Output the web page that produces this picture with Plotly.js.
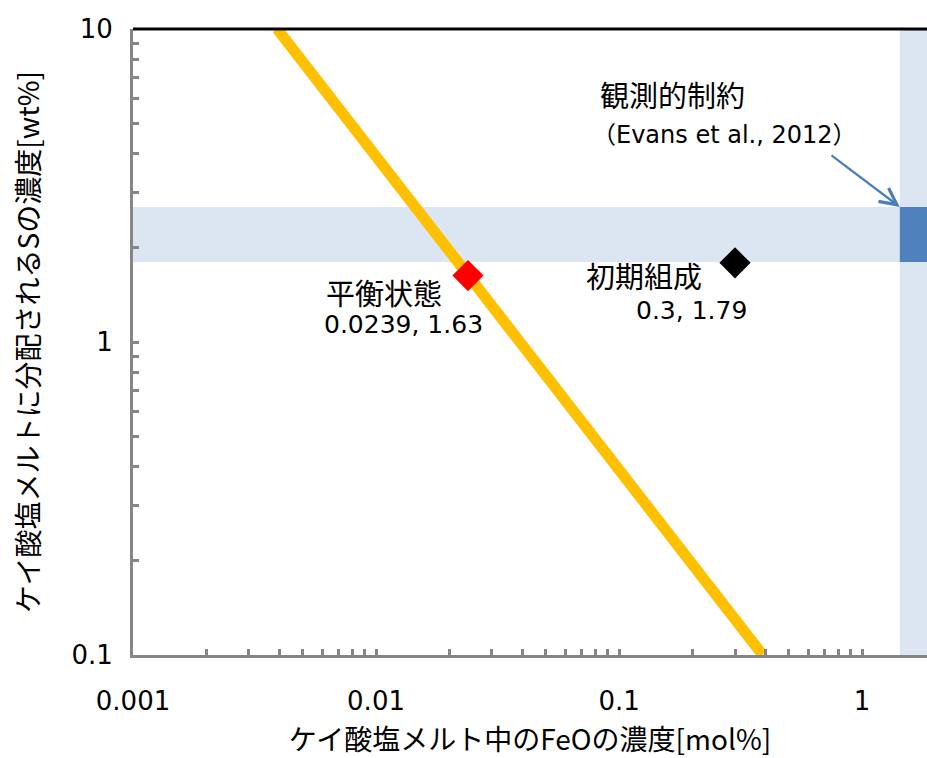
<!DOCTYPE html>
<html>
<head>
<meta charset="utf-8">
<script src="https://cdn.plot.ly/plotly-3.0.1.min.js"></script>
<style>html,body{margin:0;padding:0;background:#fff;}#chart{width:927px;height:758px;}</style>
</head>
<body>
<div id="chart"></div>
<script>
// ---- data ----
var lineFeO = [0.00392, 0.39];      // equilibrium line, FeO [mol%]
var lineS = [10, 0.1];              // S [wt%]
var eqFeO = [0.0239];
var eqS = [1.63];
var initFeO = [0.3];
var initS = [1.79];
var obsSRange = [1.8, 2.7];         // observed S band (Evans et al., 2012)
var obsFeORange = [1.43, 10];       // observed FeO band
var xTickVals = [0.001, 0.01, 0.1, 1];
var xTickText = ['0.001', '0.01', '0.1', '1'];
var yTickVals = [0.1, 1, 10];
var yTickText = ['0.1', '1', '10'];
var labels = {
  eqName: '平衡状態', eqVal: '0.0239, 1.63',
  initName: '初期組成', initVal: '0.3, 1.79',
  obsName: '観測的制約', obsRef: '（Evans et al., 2012）',
  xTitle: 'ケイ酸塩メルト中のFeOの濃度[mol%]',
  yTitle: 'ケイ酸塩メルトに分配されるSの濃度[wt%]'
};

var CJK = '"Noto Sans CJK JP", "Noto Sans", sans-serif';
var LAT = '"DejaVu Sans", "Noto Sans CJK JP", sans-serif';
var L = Math.log10;

var traces = [
  {x: lineFeO, y: lineS, mode: 'lines', line: {color: '#FFC000', width: 11}, hoverinfo: 'skip'},
  {x: eqFeO, y: eqS, mode: 'markers', marker: {symbol: 'diamond', size: 24, color: '#FF0000'}},
  {x: initFeO, y: initS, mode: 'markers', marker: {symbol: 'diamond', size: 24, color: '#000000'}}
];

var layout = {
  width: 927, height: 758,
  margin: {l: 133, r: 0, t: 29, b: 103},
  paper_bgcolor: '#fff', plot_bgcolor: '#fff',
  showlegend: false,
  font: {family: CJK, color: '#000'},
  xaxis: {
    type: 'log', range: [L(0.001), L(1.85)],
    showgrid: false, zeroline: false,
    showline: true, linecolor: '#868686', linewidth: 3,
    ticks: 'inside', ticklen: 6, tickwidth: 3, tickcolor: '#868686',
    tickmode: 'array', tickvals: xTickVals, ticktext: xTickText,
    tickfont: {size: 26, family: LAT},
    ticklabelstandoff: 21,
    minor: {ticks: 'inside', ticklen: 6, tickwidth: 3, tickcolor: '#868686', tickmode: 'array',
            tickvals: [0.002,0.003,0.004,0.005,0.006,0.007,0.008,0.009,0.02,0.03,0.04,0.05,0.06,0.07,0.08,0.09,0.2,0.3,0.4,0.5,0.6,0.7,0.8,0.9,2,3,4,5,6,7,8,9]},
    title: {text: labels.xTitle, font: {size: 28, family: CJK}, standoff: 20}
  },
  yaxis: {
    type: 'log', range: [L(0.1), L(10)],
    showgrid: false, zeroline: false,
    showline: true, linecolor: '#868686', linewidth: 3,
    ticks: 'inside', ticklen: 6, tickwidth: 3, tickcolor: '#868686',
    tickmode: 'array', tickvals: yTickVals, ticktext: yTickText,
    tickfont: {size: 26, family: LAT},
    ticklabelstandoff: 12,
    minor: {ticks: 'inside', ticklen: 6, tickwidth: 3, tickcolor: '#868686', tickmode: 'array',
            tickvals: [0.2,0.3,0.4,0.5,0.6,0.7,0.8,0.9,2,3,4,5,6,7,8,9]},
    title: {text: labels.yTitle, font: {size: 28, family: CJK}, standoff: 24}
  },
  shapes: [
    {type: 'rect', layer: 'below', xref: 'x', yref: 'y', x0: 0.0001, x1: obsFeORange[1], y0: obsSRange[0], y1: obsSRange[1], fillcolor: '#DCE6F2', line: {width: 0}},
    {type: 'rect', layer: 'below', xref: 'x', yref: 'paper', x0: obsFeORange[0], x1: obsFeORange[1], y0: 0, y1: 1, fillcolor: '#DCE6F2', line: {width: 0}},
    {type: 'rect', layer: 'below', xref: 'x', yref: 'y', x0: obsFeORange[0], x1: obsFeORange[1], y0: obsSRange[0], y1: obsSRange[1], fillcolor: '#4F81BD', line: {width: 0}},
    {type: 'line', layer: 'above', xref: 'paper', yref: 'paper', x0: 0, x1: 1, y0: 1, y1: 1, line: {color: '#000', width: 3}}
  ],
  annotations: [
    {xref: 'x', yref: 'y', x: L(eqFeO[0]) - 0.592, y: L(eqS[0]) - 0.053, text: labels.eqName, showarrow: false, xanchor: 'left', yanchor: 'middle', font: {size: 29, family: CJK}},
    {xref: 'x', yref: 'y', x: L(eqFeO[0]) - 0.602, y: L(eqS[0]) - 0.156, text: labels.eqVal, showarrow: false, xanchor: 'left', yanchor: 'middle', font: {size: 25, family: LAT}},
    {xref: 'x', yref: 'y', x: L(initFeO[0]) - 0.622, y: L(initS[0]) - 0.04, text: labels.initName, showarrow: false, xanchor: 'left', yanchor: 'middle', font: {size: 29, family: CJK}},
    {xref: 'x', yref: 'y', x: L(initFeO[0]) - 0.417, y: L(initS[0]) - 0.153, text: labels.initVal, showarrow: false, xanchor: 'left', yanchor: 'middle', font: {size: 25, family: LAT}},
    {xref: 'x', yref: 'y', x: -1.088, y: 0.791, text: labels.obsName, showarrow: false, xanchor: 'left', yanchor: 'middle', font: {size: 29, family: CJK}},
    {xref: 'x', yref: 'y', x: -1.12, y: 0.661, text: labels.obsRef, showarrow: false, xanchor: 'left', yanchor: 'middle', font: {size: 24, family: LAT}},
    {xref: 'x', yref: 'y', x: L(obsFeORange[0]), y: L(obsSRange[1]), axref: 'x', ayref: 'y', ax: -0.132, ay: 0.6,
     text: '', showarrow: true, arrowhead: 5, arrowsize: 1.5, arrowwidth: 2.2, arrowcolor: '#4A7EBB'}
  ]
};

Plotly.newPlot('chart', traces, layout, {staticPlot: true, displayModeBar: false});
</script>
</body>
</html>
